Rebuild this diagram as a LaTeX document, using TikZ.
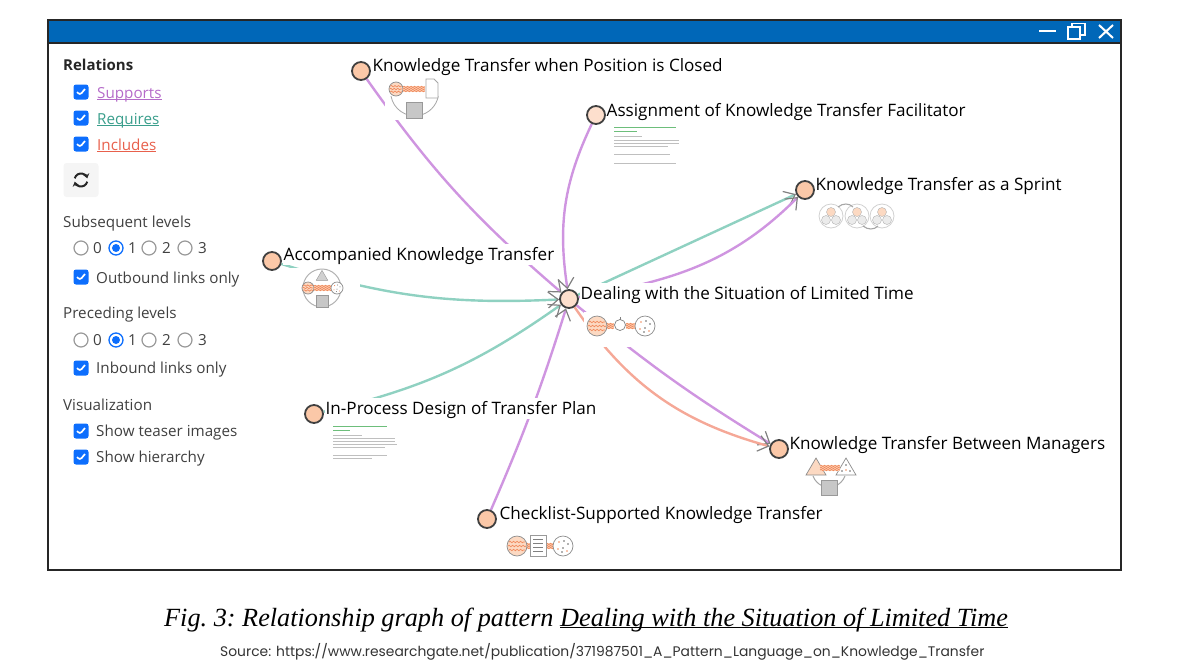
\documentclass[tikz,border=0pt]{standalone}
\usepackage{fontspec}
\setmainfont{Open Sans}
\newfontfamily\capfont{Liberation Serif}
\newfontfamily\srcfont{Poppins}
\usetikzlibrary{arrows.meta,backgrounds,decorations.pathmorphing,shapes.geometric}
\definecolor{winblue}{HTML}{0067B8}
\definecolor{boxblue}{HTML}{0D6EFD}
\definecolor{suppcol}{HTML}{CF95E0}
\definecolor{reqcol}{HTML}{8FD1C1}
\definecolor{inclcol}{HTML}{F5A897}
\definecolor{supptxt}{HTML}{B56BC9}
\definecolor{reqtxt}{HTML}{3A9E8C}
\definecolor{incltxt}{HTML}{E8604C}
\definecolor{peach}{HTML}{FBC8A8}
\definecolor{palepeach}{HTML}{FDDFCD}
\definecolor{bandcol}{HTML}{F08A5D}
\definecolor{txtgrn}{HTML}{6DBE7B}
\tikzset{
    pattnode/.style={circle,draw=black!75,fill=peach,line width=1.8pt,minimum size=18pt,inner sep=0pt},
    pattlabel/.style={anchor=west,fill=white,inner sep=0.5pt,text height=16pt,text depth=4pt,font=\fontsize{17.1}{20}\selectfont},
    teaser/.style={fill=white,inner sep=0pt},
    side/.style={anchor=west,inner sep=0pt,text=black!75,text height=13pt,text depth=3pt,font=\fontsize{15.2}{18}\selectfont},
    chkbox/.style={rounded corners=2.5pt,fill=boxblue,minimum size=15pt,inner sep=0pt,
        path picture={\draw[white,line width=1.7pt] (path picture bounding box.center) ++(-4,0) -- ++(3,3) -- ++(5,-6);}},
    radiobtn/.style={circle,draw=black!40,line width=1.2pt,minimum size=14pt,inner sep=0pt},
    radioon/.style={circle,draw=boxblue,line width=1.3pt,minimum size=14pt,inner sep=0pt,
        path picture={\fill[boxblue] (path picture bounding box.center) circle (4);}},
    relsupp/.style={draw=suppcol,line width=2.4pt},
    relreq/.style={draw=reqcol,line width=2.4pt},
    relincl/.style={draw=inclcol,line width=2.4pt},
    relarrow/.style={-{Straight Barb[length=10pt,width=16pt,line width=1.2pt,color=black!50]}},
    icongray/.style={draw=black!35,line width=0.8pt},
    iconfill/.style={draw=black!40,fill=black!22,line width=0.8pt},
    bandline/.style={draw=bandcol,line width=0.7pt,decorate,decoration={snake,amplitude=0.7,segment length=3.5}},
    txtgreen/.style={draw=txtgrn,line width=0.9pt},
    txtgray/.style={draw=black!25,line width=0.5pt},
    pics/oreblob/.style={code={
        \draw[draw=black!45,fill=peach!70,line width=0.7pt] (0,0) circle (10);
        \draw[bandline] (-8,-4) -- (8,-4);
        \draw[bandline] (-9,0) -- (9,0);
        \draw[bandline] (-8,4) -- (8,4);
    }},
    pics/dotball/.style={code={
        \draw[draw=black!45,fill=white,line width=0.7pt] (0,0) circle (10);
        \fill[bandcol] (-4,-4) circle (0.9) (4,5) circle (0.9) (-5,3) circle (0.9);
        \fill[black!60] (1,-5) circle (0.9) (5,-2) circle (0.9) (0,2) circle (0.9) (-1,6) circle (0.8);
    }},
    pics/band/.style={code={
        \draw[draw=peach!80,line width=5.5pt] (0,0) -- (#1,0);
        \draw[bandline] (0,-2) -- (#1,-2);
        \draw[bandline] (0,0) -- (#1,0);
        \draw[bandline] (0,2) -- (#1,2);
    }},
    pics/trio/.style={code={
        \draw[draw=black!18,line width=0.8pt] (0,0) circle (12);
        \draw[draw=black!30,fill=peach!70] (0,-4) circle (4.5);
        \draw[draw=black!30,fill=black!8] (-5,4) circle (4.5);
        \draw[draw=black!30,fill=black!8] (5,4) circle (4.5);
    }},
}
\begin{document}
\begin{tikzpicture}[x=1pt,y=-1pt]
    \useasboundingbox (0,0) rectangle (1200,670);
    %% pattern nodes
    \node[pattnode] (closed) at (361,71) {};
    \node[pattnode,fill=palepeach] (facil) at (596,115) {};
    \node[pattnode] (sprint) at (805,190) {};
    \node[pattnode] (accomp) at (272,261) {};
    \node[pattnode,fill=palepeach] (limited) at (569,299) {};
    \node[pattnode] (inproc) at (314,414) {};
    \node[pattnode] (managers) at (779,449) {};
    \node[pattnode] (checklist) at (487,519) {};
    %% labels
    \node[pattlabel] (closedlbl) at (372,65) {Knowledge Transfer when Position is Closed};
    \node[pattlabel] (facillbl) at (606,110) {Assignment of Knowledge Transfer Facilitator};
    \node[pattlabel] (sprintlbl) at (815,184) {Knowledge Transfer as a Sprint};
    \node[pattlabel] (accomplbl) at (283,254) {Accompanied Knowledge Transfer};
    \node[pattlabel] (limitedlbl) at (580,293) {Dealing with the Situation of Limited Time};
    \node[pattlabel] (inproclbl) at (325,408) {In-Process Design of Transfer Plan};
    \node[pattlabel] (managerslbl) at (789,443) {Knowledge Transfer Between Managers};
    \node[pattlabel] (checklistlbl) at (499,513) {Checklist-Supported Knowledge Transfer};
    %% relations, behind everything
    \begin{scope}[on background layer]
        \draw[relsupp,relarrow] (closed) to[bend right=7] (limited);
        \draw[relsupp,relarrow] (facil) to[bend right=17] (limited);
        \draw[relreq,relarrow] (accomp) to[bend right=10] (limited);
        \draw[relreq,relarrow] (inproc) to[bend right=11] (limited);
        \draw[relsupp,relarrow] (checklist) to[bend right=3] (limited);
        \draw[relreq,relarrow] (limited) -- (sprint);
        \draw[relsupp,relarrow] (limited) to[out=10,in=225] (sprint);
        \draw[relsupp,relarrow] (limited) to[bend right=4] (managers);
        \draw[relincl,relarrow] (limited) to[bend right=20] (managers);
    \end{scope}
    %% teaser of closed position
    \node[teaser,minimum width=60pt,minimum height=42pt] (imgclosed) at (415,99) {};
    \draw[icongray] (391,96) arc[start angle=170,end angle=10,radius=24];
    \pic[scale=0.7] at (396,89) {oreblob};
    \pic at (403,89) {band=22};
    \draw[draw=black!35,fill=white,line width=0.8pt] (426,79) -- (434,79) -- (438,83) -- (438,98) -- (426,98) -- cycle;
    \draw[iconfill] (406,102) rectangle (422,118);
    %% teaser of facilitator
    \node[teaser,minimum width=72pt,minimum height=46pt] (imgfacil) at (648,146) {};
    \draw[txtgreen] (614,127) -- (676,127);
    \draw[txtgreen] (614,131) -- (637,131);
    \draw[txtgray] (614,136) -- (642,136);
    \draw[txtgray] (614,140) -- (679,140);
    \draw[txtgray] (614,143) -- (679,143);
    \draw[txtgray] (614,146) -- (668,146);
    \draw[txtgray] (614,154) -- (670,154);
    \draw[txtgray] (614,163) -- (676,163);
    %% teaser of sprint
    \node[teaser,minimum width=84pt,minimum height=30pt] (imgsprint) at (857,216) {};
    \pic at (831,216) {trio};
    \pic at (857,216) {trio};
    \pic at (882,216) {trio};
    \draw[icongray,line width=1.1pt] (838,207) .. controls (843,203) and (849,203) .. (853,207);
    \draw[icongray,line width=1.1pt] (863,226) .. controls (868,230) and (874,230) .. (878,226);
    %% teaser of accompanied
    \node[teaser,minimum width=70pt,minimum height=46pt] (imgaccomp) at (325,291) {};
    \draw[draw=black!30,line width=1pt] (322,288) circle (19);
    \node[teaser,draw=black!40,isosceles triangle,isosceles triangle apex angle=60,shape border rotate=90,minimum size=10pt,fill=black!18] (triaccomp) at (322,277) {};
    \pic[scale=0.6] at (308,288) {oreblob};
    \pic at (314,288) {band=18};
    \pic[scale=0.6] at (337,288) {dotball};
    \draw[iconfill] (316,295) rectangle (328,307);
    %% teaser of limited time
    \node[teaser,minimum width=76pt,minimum height=35pt] (imglimited) at (622,329) {};
    \pic at (606,326) {band=8};
    \pic at (626,326) {band=9};
    \pic at (597,326) {oreblob};
    \draw[draw=black!50,fill=white,line width=0.7pt] (620,325) circle (5.5);
    \draw[draw=black!50,line width=0.9pt] (620,317) -- (620,319.5);
    \pic at (645,326) {dotball};
    %% teaser of in-process
    \node[teaser,minimum width=72pt,minimum height=40pt] (imginproc) at (366,440) {};
    \draw[txtgreen] (333,426) -- (387,426);
    \draw[txtgreen] (333,430) -- (350,430);
    \draw[txtgray] (333,435) -- (362,435);
    \draw[txtgray] (333,438) -- (395,438);
    \draw[txtgray] (333,441) -- (395,441);
    \draw[txtgray] (333,444) -- (397,444);
    \draw[txtgray] (333,447) -- (385,447);
    \draw[txtgray] (333,455) -- (387,455);
    \draw[txtgray] (333,458) -- (372,458);
    %% teaser of managers
    \node[teaser,minimum width=56pt,minimum height=40pt] (imgmanagers) at (830,478) {};
    \draw[icongray,line width=1pt] (813,476) arc[start angle=160,end angle=20,radius=17];
    \draw[draw=black!45,fill=peach!70,line width=0.7pt] (806,475) -- (816,458) -- (826,475) -- cycle;
    \draw[draw=black!45,fill=white,line width=0.7pt] (836,475) -- (846,458) -- (856,475) -- cycle;
    \pic at (820,468) {band=20};
    \fill[black!60] (846,465) circle (0.8) (842,471) circle (0.8) (850,471) circle (0.8);
    \fill[bandcol] (846,470) circle (0.8);
    \draw[iconfill] (821,480) rectangle (837,495);
    %% teaser of checklist
    \node[teaser,minimum width=76pt,minimum height=28pt] (imgchecklist) at (540,546) {};
    \pic at (526,546) {band=6};
    \pic at (546,546) {band=8};
    \pic at (517,546) {oreblob};
    \draw[draw=black!40,fill=white,line width=0.8pt] (530,535) rectangle (546,556);
    \draw[black!50,line width=0.5pt] (533,539) -- (543,539) (533,543) -- (543,543) (533,547) -- (543,547) (533,551) -- (543,551);
    \pic at (563,546) {dotball};
    %% window
    \fill[winblue] (48,20) rectangle (1121,43);
    \draw[black!85,line width=1.8pt] (48,20) rectangle (1121,570);
    \draw[black!85,line width=1.2pt] (48,43) -- (1121,43);
    \draw[white,line width=1.4pt] (1039,31) -- (1056,31);
    \draw[white,line width=1.2pt] (1068,27) rectangle (1080,39);
    \draw[white,line width=1.2pt] (1072,27) -- (1072,23.5) -- (1085,23.5) -- (1085,35) -- (1080,35);
    \draw[white,line width=2pt] (1099,25) -- (1113,38) (1113,25) -- (1099,38);
    %% relations panel
    \node[side,text=black!85,font=\fontsize{15}{18}\selectfont\bfseries] (relhead) at (63,65) {Relations};
    \node[chkbox] (chksupp) at (81,92) {};
    \node[chkbox] (chkreq) at (81,118) {};
    \node[chkbox] (chkincl) at (81,144) {};
    \node[side,text=supptxt] (lblsupp) at (97,93) {\underline{\smash{Supports}}};
    \node[side,text=reqtxt] (lblreq) at (97,119) {\underline{\smash{Requires}}};
    \node[side,text=incltxt] (lblincl) at (97,145) {\underline{\smash{Includes}}};
    \node[fill=black!4,rounded corners=3pt,minimum width=35pt,minimum height=34pt] (refresh) at (81,180) {};
    \draw[black!85,line width=2pt,-{Stealth[length=4.5pt,width=6.5pt]}] (refresh.center) ++(-165:6.5) arc[start angle=-165,end angle=-15,radius=6.5];
    \draw[black!85,line width=2pt,-{Stealth[length=4.5pt,width=6.5pt]}] (refresh.center) ++(15:6.5) arc[start angle=15,end angle=165,radius=6.5];
    %% subsequent levels
    \node[side] (subhead) at (63,222) {Subsequent levels};
    \node[radiobtn] (suba) at (81,248) {};
    \node[side] at (93,248) (subatxt) {0};
    \node[radioon] (subb) at (116,248) {};
    \node[side] at (128,248) (subbtxt) {1};
    \node[radiobtn] (subc) at (149,248) {};
    \node[side] at (162,248) (subctxt) {2};
    \node[radiobtn] (subd) at (185,248) {};
    \node[side] at (198,248) (subdtxt) {3};
    \node[chkbox] (chkout) at (81,277) {};
    \node[side] (lblout) at (96,278) {Outbound links only};
    %% preceding levels
    \node[side] (prehead) at (63,313) {Preceding levels};
    \node[radiobtn] (prea) at (81,340) {};
    \node[side] at (93,340) (preatxt) {0};
    \node[radioon] (preb) at (116,340) {};
    \node[side] at (128,340) (prebtxt) {1};
    \node[radiobtn] (prec) at (149,340) {};
    \node[side] at (162,340) (prectxt) {2};
    \node[radiobtn] (pred) at (185,340) {};
    \node[side] at (198,340) (predtxt) {3};
    \node[chkbox] (chkin) at (81,368) {};
    \node[side] (lblin) at (96,368) {Inbound links only};
    %% visualization
    \node[side] (vishead) at (63,405) {Visualization};
    \node[chkbox] (chkteaser) at (81,431) {};
    \node[side] (lblteaser) at (96,431) {Show teaser images};
    \node[chkbox] (chkhier) at (81,457) {};
    \node[side] (lblhier) at (96,457) {Show hierarchy};
    %% caption
    \node[anchor=west,inner sep=0pt,text height=18pt,text depth=6pt,font=\capfont\itshape\frenchspacing\fontsize{26.25}{30}\selectfont] (caption) at (164,620) {Fig. 3: Relationship graph of pattern \underline{\smash{Dealing with the Situation of Limited Time}}};
    \node[anchor=west,inner sep=0pt,text=black!80,font=\srcfont\fontsize{13.87}{17}\selectfont] (source) at (220,652) {Source: https://www.researchgate.net/publication/371987501\_A\_Pattern\_Language\_on\_Knowledge\_Transfer};
\end{tikzpicture}
\end{document}
